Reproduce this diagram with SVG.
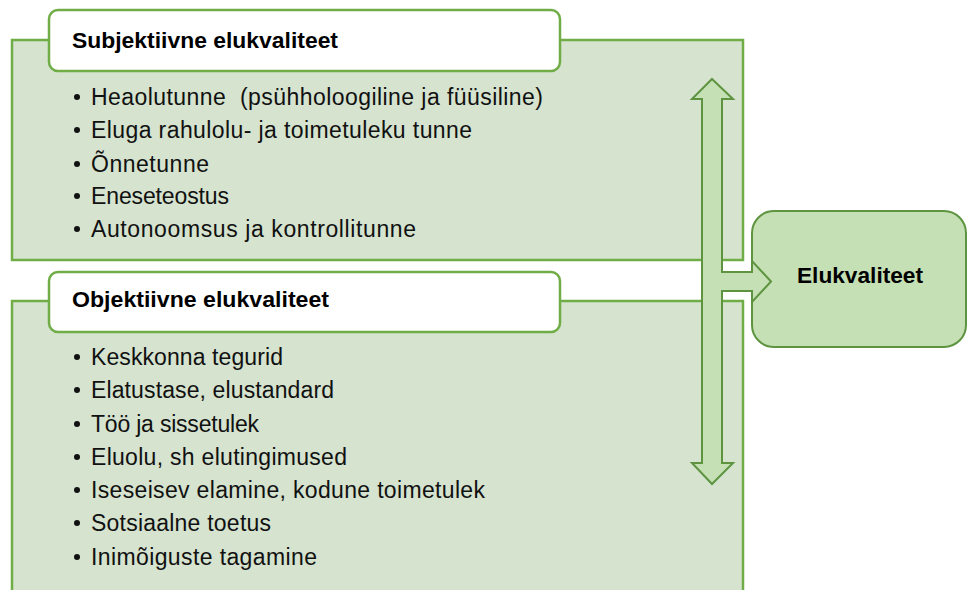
<svg xmlns="http://www.w3.org/2000/svg" width="967" height="590" viewBox="0 0 967 590">
  <style>
    .panel { fill: #d5e3cf; stroke: #70ad47; stroke-width: 2.5; }
    .head { fill: #ffffff; stroke: #70ad47; stroke-width: 2.5; }
    .title { font-family: "Liberation Sans", Arial, sans-serif; font-weight: bold; font-size: 22.5px; fill: #000000; }
    .item { font-family: "Liberation Sans", Arial, sans-serif; font-size: 23px; fill: #111111; }
    .dot { fill: #111111; }
    .arrow { fill: #c5e0b4; stroke: #5e9440; stroke-width: 2; stroke-linejoin: miter; }
    .result { fill: #c5e0b4; stroke: #5e9440; stroke-width: 2; }
  </style>

  <!-- Subjective quality of life panel -->
  <g id="subjektiivne">
    <rect class="panel" x="12" y="40" width="731" height="220"/>
    <rect class="head" x="49" y="10" width="511" height="61" rx="9"/>
    <text class="title" x="72" y="48" textLength="266" lengthAdjust="spacingAndGlyphs">Subjektiivne elukvaliteet</text>
    <g class="dot">
      <circle cx="77" cy="97" r="3"/>
      <circle cx="77" cy="130" r="3"/>
      <circle cx="77" cy="164" r="3"/>
      <circle cx="77" cy="196" r="3"/>
      <circle cx="77" cy="229" r="3"/>
    </g>
    <text class="item" x="91" y="105" xml:space="preserve" textLength="452">Heaolutunne  (psühholoogiline ja füüsiline)</text>
    <text class="item" x="91" y="138" textLength="381">Eluga rahulolu- ja toimetuleku tunne</text>
    <text class="item" x="91" y="172" textLength="118">Õnnetunne</text>
    <text class="item" x="91" y="204" textLength="138">Eneseteostus</text>
    <text class="item" x="91" y="237" textLength="325">Autonoomsus ja kontrollitunne</text>
  </g>

  <!-- Objective quality of life panel -->
  <g id="objektiivne">
    <rect class="panel" x="12" y="301" width="731" height="300"/>
    <rect class="head" x="49" y="272" width="511" height="60" rx="9"/>
    <text class="title" x="72" y="307" textLength="257" lengthAdjust="spacingAndGlyphs">Objektiivne elukvaliteet</text>
    <g class="dot">
      <circle cx="77" cy="357" r="3"/>
      <circle cx="77" cy="390" r="3"/>
      <circle cx="77" cy="424" r="3"/>
      <circle cx="77" cy="457" r="3"/>
      <circle cx="77" cy="490" r="3"/>
      <circle cx="77" cy="523" r="3"/>
      <circle cx="77" cy="557" r="3"/>
    </g>
    <text class="item" x="91" y="365" textLength="192">Keskkonna tegurid</text>
    <text class="item" x="91" y="398" textLength="243">Elatustase, elustandard</text>
    <text class="item" x="91" y="432" textLength="168">Töö ja sissetulek</text>
    <text class="item" x="91" y="465" textLength="256">Eluolu, sh elutingimused</text>
    <text class="item" x="91" y="498" textLength="394">Iseseisev elamine, kodune toimetulek</text>
    <text class="item" x="91" y="531" textLength="180">Sotsiaalne toetus</text>
    <text class="item" x="91" y="565" textLength="226">Inimõiguste tagamine</text>
  </g>

  <!-- Overall quality of life -->
  <g id="elukvaliteet">
    <rect class="result" x="752" y="211" width="214" height="136" rx="22"/>
    <text class="title" x="797" y="283" textLength="126" lengthAdjust="spacingAndGlyphs">Elukvaliteet</text>
  </g>

  <!-- Double-headed arrow with branch into the result -->
  <g id="connectors">
    <polygon class="arrow" points="712,79 733,99 722,99 722,272 752,272 752,261 771,281.5 752,302 752,291 722,291 722,463 733,463 712,484 692,463 702,463 702,99 692,99"/>
  </g>
</svg>
